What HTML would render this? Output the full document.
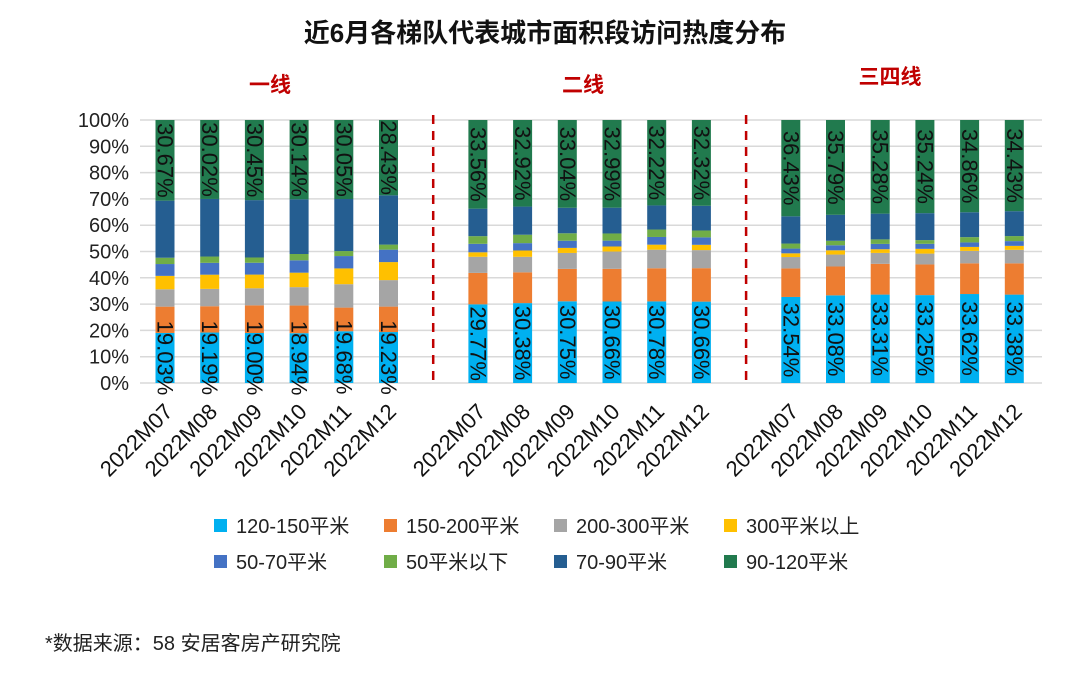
<!DOCTYPE html>
<html><head><meta charset="utf-8"><style>
body{margin:0;background:#fff;}
svg{display:block;font-family:"Liberation Sans","Noto Sans CJK SC",sans-serif;}
</style></head><body>
<svg id="c" width="1080" height="673" viewBox="0 0 1080 673">
<text x="545" y="42" text-anchor="middle" font-size="26" font-weight="bold" fill="#111">近6月各梯队代表城市面积段访问热度分布</text>
<text x="270" y="92" text-anchor="middle" font-size="21" font-weight="bold" fill="#c00000">一线</text>
<text x="583" y="92" text-anchor="middle" font-size="21" font-weight="bold" fill="#c00000">二线</text>
<text x="890" y="84" text-anchor="middle" font-size="21" font-weight="bold" fill="#c00000">三四线</text>
<g id="grid"></g><g id="bars"></g><g id="labels"></g>
<text x="45" y="650" font-size="20" fill="#222">*数据来源：58 安居客房产研究院</text>
</svg>
<script>
const categories=["2022M07","2022M08","2022M09","2022M10","2022M11","2022M12"];
const seriesNames=["120-150平米","150-200平米","200-300平米","300平米以上","50-70平米","50平米以下","70-90平米","90-120平米"];
const colors=["#00b0f0","#ed7d31","#a5a5a5","#ffc000","#4472c4","#70ad47","#255e91","#217a4e"];
const yTicks=[0,10,20,30,40,50,60,70,80,90,100];
const tier1=[
[19.03,10.0,6.6,5.1,4.5,2.4,21.7,30.67],
[19.19,10.0,6.6,5.4,4.5,2.4,21.9,30.02],
[19.00,10.5,6.5,5.2,4.5,2.0,21.8,30.45],
[18.94,10.5,7.0,5.5,4.7,2.4,20.8,30.14],
[19.68,9.0,8.9,6.0,4.7,1.9,19.8,30.05],
[19.23,9.6,10.0,6.8,4.7,1.9,18.6,28.43]];
const tier2=[
[29.77,11.9,6.1,1.7,3.2,2.9,10.4,33.56],
[30.38,11.7,5.9,2.4,2.8,3.2,10.7,32.92],
[30.75,12.2,6.0,1.9,2.7,2.8,9.6,33.04],
[30.66,12.3,6.5,1.9,2.2,2.7,9.7,32.99],
[30.78,12.5,7.0,1.9,2.9,2.8,9.1,32.22],
[30.66,12.6,6.8,2.0,2.8,2.6,9.3,32.32]];
const tier3=[
[32.54,10.8,4.3,1.4,1.8,1.9,10.3,36.43],
[33.08,10.9,4.5,1.6,1.9,1.7,9.8,35.79],
[33.31,11.6,4.1,1.4,2.0,1.7,9.7,35.28],
[33.25,11.6,4.1,1.8,1.9,1.4,10.2,35.24],
[33.62,11.6,4.7,1.5,1.7,2.0,9.4,34.86],
[33.38,11.8,5.1,1.5,1.8,1.9,9.4,34.43]];
const groups=[tier1,tier2,tier3];
const NS="http://www.w3.org/2000/svg";
const y0=383,y1=120,xL=140,xR=1042,slot0=165,step=44.7,bw=19;
const y=v=>y0-(y0-y1)*v/100;
const xs=i=>slot0+i*step;
function mk(t,a,p){const e=document.createElementNS(NS,t);for(const k in a)e.setAttribute(k,a[k]);p.appendChild(e);return e;}
const grid=document.getElementById('grid'),bars=document.getElementById('bars'),lab=document.getElementById('labels');
yTicks.forEach(t=>{
 const l=mk('line',{x1:xL,x2:xR,y1:y(t),y2:y(t),stroke:'#d9d9d9','stroke-width':1.5},grid);
 
 
 const tx=mk('text',{x:129,y:y(t)+7,'text-anchor':'end','font-size':20,fill:'#222'},grid);
 tx.textContent=t+'%';
 
 
});
[6,13].forEach(s=>{
 const d=mk('line',{x1:xs(s),x2:xs(s),y1:115,y2:387,stroke:'#c00000','stroke-width':2.5,'stroke-dasharray':'9,7'},grid);
 
 
});
groups.forEach((g,gi)=>{
 g.forEach((row,bi)=>{
  const slot=gi*7+bi, cx=xs(slot);
  const tot=row.reduce((a,b)=>a+b,0);
  let acc=0;
  row.forEach((v,si)=>{
   const vv=v*100/tot;
   const top=y(acc+vv),bot=y(acc);
   const r=mk('rect',{x:cx-bw/2,y:top,width:bw,height:bot-top,fill:colors[si]},bars);
   
   
   if(si===0||si===7){
    const mid=(top+bot)/2;
    const t=mk('text',{x:0,y:0,'text-anchor':'middle','font-size':22,fill:'#111',transform:`translate(${cx-7.5},${mid}) rotate(90)`},lab);
    t.textContent=v.toFixed(2)+'%';
    
    
   }
   acc+=vv;
  });
  const xl=mk('text',{x:0,y:0,'text-anchor':'end','font-size':22,fill:'#111',transform:`translate(${cx+9},${413}) rotate(-45)`},lab);
  xl.textContent=categories[bi];
  
  
 });
});
const svg=document.getElementById('c');
const legX=[214,384,554,724],legY=[531,567];
seriesNames.forEach((n,i)=>{
 const lx=legX[i%4],ly=legY[Math.floor(i/4)];
 const g=mk('g',{},svg);
 
 
 mk('rect',{x:lx,y:ly-12,width:13,height:13,fill:colors[i]},g);
 const t=mk('text',{x:lx+22,y:ly+2,'font-size':20,fill:'#222'},g);
 t.textContent=n;
});
</script>
</body></html>
